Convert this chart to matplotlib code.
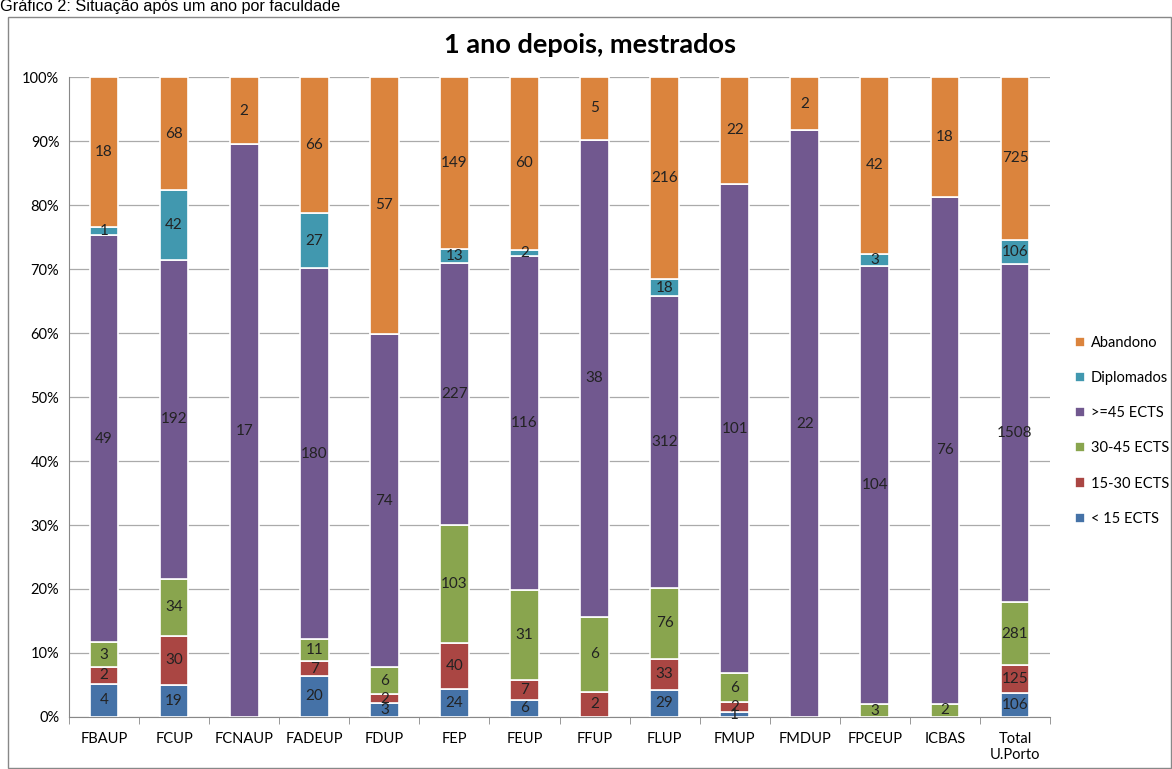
import matplotlib.pyplot as plt
import matplotlib.patches as mpatches
import numpy as np

# faculdades e contagens por situação (1 ano depois, mestrados)
faculdades = ["FBAUP", "FCUP", "FCNAUP", "FADEUP", "FDUP", "FEP", "FEUP", "FFUP",
              "FLUP", "FMUP", "FMDUP", "FPCEUP", "ICBAS", "Total\nU.Porto"]
menos15 = [4, 19, 0, 20, 3, 24, 6, 0, 29, 1, 0, 0, 0, 106]
ects15_30 = [2, 30, 0, 7, 2, 40, 7, 2, 33, 2, 0, 0, 0, 125]
ects30_45 = [3, 34, 0, 11, 6, 103, 31, 6, 76, 6, 0, 3, 2, 281]
mais45 = [49, 192, 17, 180, 74, 227, 116, 38, 312, 101, 22, 104, 76, 1508]
diplomados = [1, 42, 0, 27, 0, 13, 2, 0, 18, 0, 0, 3, 0, 106]
abandono = [18, 68, 2, 66, 57, 149, 60, 5, 216, 22, 2, 42, 18, 725]

series = [
    ("< 15 ECTS", menos15, "#4572A7"),
    ("15-30 ECTS", ects15_30, "#AA4643"),
    ("30-45 ECTS", ects30_45, "#89A54E"),
    (">=45 ECTS", mais45, "#71588F"),
    ("Diplomados", diplomados, "#4198AF"),
    ("Abandono", abandono, "#DB843D"),
]

font = "Lato"
W, H = 1172, 769
fig = plt.figure(figsize=(W / 100, H / 100), dpi=100)

# moldura do gráfico e legenda do documento
fig.patches.append(mpatches.Rectangle((8 / W, 0.001), 1 - 8 / W - 0.001, 1 - 18 / H,
                                      transform=fig.transFigure, fill=False,
                                      edgecolor="#888888", linewidth=1.0))
fig.text(0.0, 1 - 11 / H, "Gráfico 2: Situação após um ano por faculdade",
         family="Liberation Sans", fontsize=11.7, va="baseline", ha="left")

ax = fig.add_axes([69 / W, 1 - 717 / H, (1050 - 69) / W, (717 - 77) / H])

x = np.arange(len(faculdades))
totals = np.sum([s[1] for s in series], axis=0)
bottom = np.zeros(len(faculdades))
handles = []
for name, vals, color in series:
    pct = np.array(vals) / totals * 100
    bars = ax.bar(x, pct, width=0.41, bottom=bottom, color=color,
                  edgecolor="white", linewidth=1.2, zorder=3, label=name)
    for xi, b, p, v in zip(x, bottom, pct, vals):
        if v > 0:
            ax.text(xi, b + p / 2, str(v), ha="center", va="center",
                    fontsize=11, family=font, color="#222222", zorder=4)
    bottom += pct
    handles.append(bars)

ax.set_xlim(-0.5, len(faculdades) - 0.5)
ax.set_ylim(0, 100)
ax.set_yticks(np.arange(0, 101, 10))
ax.set_yticklabels([f"{t}%" for t in range(0, 101, 10)], family=font, fontsize=10.5)
ax.set_xticks(x)
ax.set_xticklabels(faculdades, family=font, fontsize=10.5)
ax.set_xticks(np.arange(-0.5, len(faculdades), 1), minor=True)
ax.tick_params(axis="x", which="major", length=0, pad=11)
ax.tick_params(axis="x", which="minor", length=5, color="#888888", direction="out")
ax.tick_params(axis="y", length=0, pad=7)
ax.yaxis.grid(True, color="#AAAAAA", linewidth=0.9, zorder=0)
for s in ["top", "right"]:
    ax.spines[s].set_visible(False)
ax.spines["left"].set_color("#888888")
ax.spines["bottom"].set_color("#888888")

fig.text(590 / W, 1 - 45 / H, "1 ano depois, mestrados", family=font,
         fontweight="bold", fontsize=19.5, ha="center", va="center")

leg = ax.legend(handles[::-1], [s[0] for s in series][::-1], loc="center left",
                bbox_to_anchor=(1.012, 0.447), frameon=False, prop={"family": font, "size": 10.5},
                handlelength=0.7, handleheight=0.7, labelspacing=1.45, handletextpad=0.4)

fig.savefig("out.png", dpi=100)
